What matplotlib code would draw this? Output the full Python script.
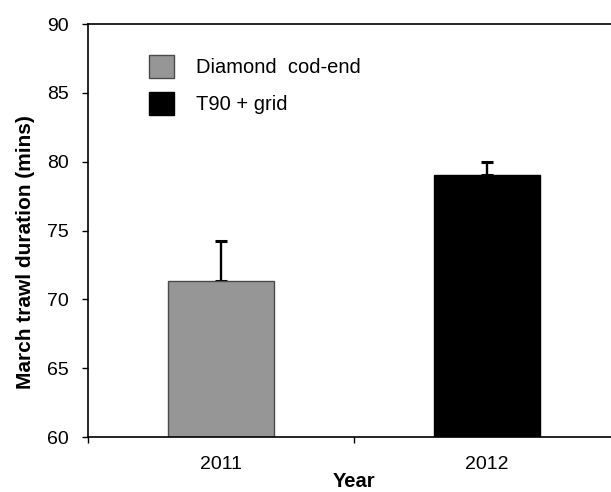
import numpy as np
import matplotlib
matplotlib.use('Agg')
import matplotlib.pyplot as plt

plt.rcParams['font.family'] = ['Liberation Sans', 'DejaVu Sans']

years = ['2011', '2012']
labels = ['Diamond  cod-end', 'T90 + grid']
durations = [71.3, 79.0]
errors = [2.95, 1.0]
colors = ['#969696', '#000000']
edges = ['#4a4a4a', '#000000']

W, H = 611, 492
fig = plt.figure(figsize=(W / 100, H / 100), dpi=100)
ax = fig.add_axes([88 / W, 1 - 437 / H, (620 - 88) / W, (437 - 24) / H])

x = np.arange(len(years))
for i in range(len(years)):
    ax.bar(x[i], durations[i], width=0.40, bottom=0, color=colors[i],
           edgecolor=edges[i], linewidth=1.0, label=labels[i], zorder=2)
    ax.errorbar(x[i], durations[i], yerr=[[0], [errors[i]]], fmt='none',
                ecolor='black', elinewidth=1.7, capsize=4, capthick=2.2, zorder=1)

ax.set_ylim(60, 90)
ax.set_xlim(-0.5, 1.5)
ax.set_yticks(np.arange(60, 91, 5))
ax.set_xticks([-0.5, 0.5, 1.5])
ax.set_xticklabels([])
ax.set_xticks(x, minor=True)
ax.set_xticklabels(years, minor=True)
ax.tick_params(axis='x', which='minor', length=0, pad=14, labelsize=14)
ax.tick_params(axis='x', which='major', length=4.5, width=1, direction='out')
ax.tick_params(axis='y', length=4.5, width=1, direction='out', labelsize=14, pad=9)

for s in ['left', 'bottom', 'top']:
    ax.spines[s].set_linewidth(1.2)
ax.spines['right'].set_visible(False)

ax.set_xlabel('Year', fontsize=14.5, fontweight='bold', labelpad=-1)
ax.set_ylabel('March trawl duration (mins)', fontsize=15, fontweight='bold', labelpad=9)
ax.yaxis.label.set_y(0.448)

ax.legend(loc='upper left', bbox_to_anchor=(149 / W, 1 - 55 / H),
          bbox_transform=fig.transFigure, frameon=False, fontsize=14.5,
          borderpad=0, borderaxespad=0, handlelength=1.24, handleheight=1.36,
          handletextpad=1.09, labelspacing=0.7)

fig.savefig('out.png', dpi=100)
